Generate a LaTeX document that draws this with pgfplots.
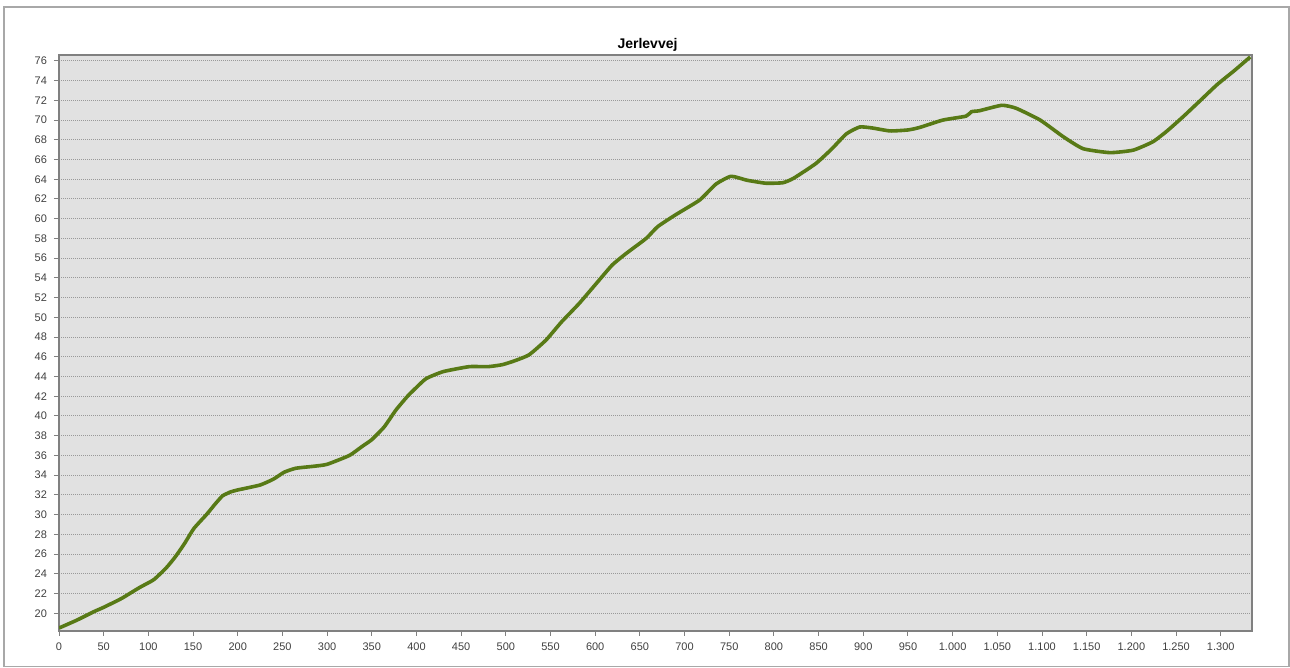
\documentclass[border=0pt]{standalone}
\usepackage{fontspec}
\setmainfont{Liberation Sans}
\usepackage{pgfplots}
\pgfplotsset{compat=1.18}
\definecolor{bgplot}{HTML}{E1E1E1}
\definecolor{curve}{RGB}{88,122,22}
\definecolor{framegray}{HTML}{A8A8A8}

\begin{document}
\begin{tikzpicture}
    \path[use as bounding box] (-29.5pt,-18.5pt) rectangle (615.5pt,315.5pt);
    \draw[framegray, line width=0.6pt] (-27.5pt,-17.7pt) rectangle (615pt,312pt);
    \begin{axis}[
        scale only axis,
        width=596.5pt,
        height=288pt,
        xmin=0, xmax=1335,
        ymin=18.2, ymax=76.6,
        xtick={0,50,...,1300},
        ytick={20,22,...,76},
        /pgf/number format/1000 sep={.},
        /pgf/number format/assume math mode=true,
        tick label style={font=\fontsize{5.5}{6}\selectfont, text=black!75},
        tick pos=left,
        tick align=outside,
        major tick length=2.5pt,
        every tick/.style={gray, line width=0.5pt},
        ymajorgrids,
        major grid style={gray!80, line width=0.5pt, dash pattern=on 0.5pt off 0.5pt},
        axis background/.style={fill=bgplot},
        axis line style={gray, line width=0.7pt},
        title={Jerlevvej},
        title style={font=\bfseries\fontsize{7}{8}\selectfont, yshift=-7.5pt, xshift=-4pt},
        ]
        \addplot[curve, line width=1.8pt, line join=round, smooth, tension=0.3] coordinates {
            (0,18.5) (20,19.3) (40,20.2) (50,20.6) (70,21.5) (90,22.6)
            (106,23.4) (120,24.6) (130,25.7) (140,27.0) (151,28.6) (165,30.0)
            (175,31.1) (183,31.9) (192,32.3) (200,32.5) (225,33.0) (240,33.6)
            (252,34.3) (265,34.7) (285,34.9) (300,35.1) (325,36.0) (339,36.9)
            (350,37.6) (364,38.9) (377,40.6) (390,42.0) (400,42.9) (411,43.8)
            (430,44.5) (459,45.0) (480,45.0) (496,45.2) (510,45.6) (526,46.2)
            (545,47.7) (562,49.5) (582,51.4) (600,53.3) (619,55.3) (635,56.5)
            (657,58.0) (670,59.2) (690,60.4) (717,61.9) (735,63.5) (752,64.3)
            (770,63.9) (791,63.6) (810,63.65) (822,64.1) (847,65.6) (865,67.1)
            (881,68.6) (896,69.3) (910,69.2) (930,68.9) (950,69.0) (963,69.25)
            (989,70.0) (1015,70.4) (1021,70.85) (1030,70.95) (1055,71.5) (1071,71.2)
            (1098,70.0) (1124,68.3) (1146,67.1) (1176,66.7) (1202,66.95) (1224,67.8)
            (1240,68.9) (1258,70.35) (1275,71.8) (1296,73.6) (1315,75.0) (1333,76.4)
        };
    \end{axis}
\end{tikzpicture}
\end{document}
